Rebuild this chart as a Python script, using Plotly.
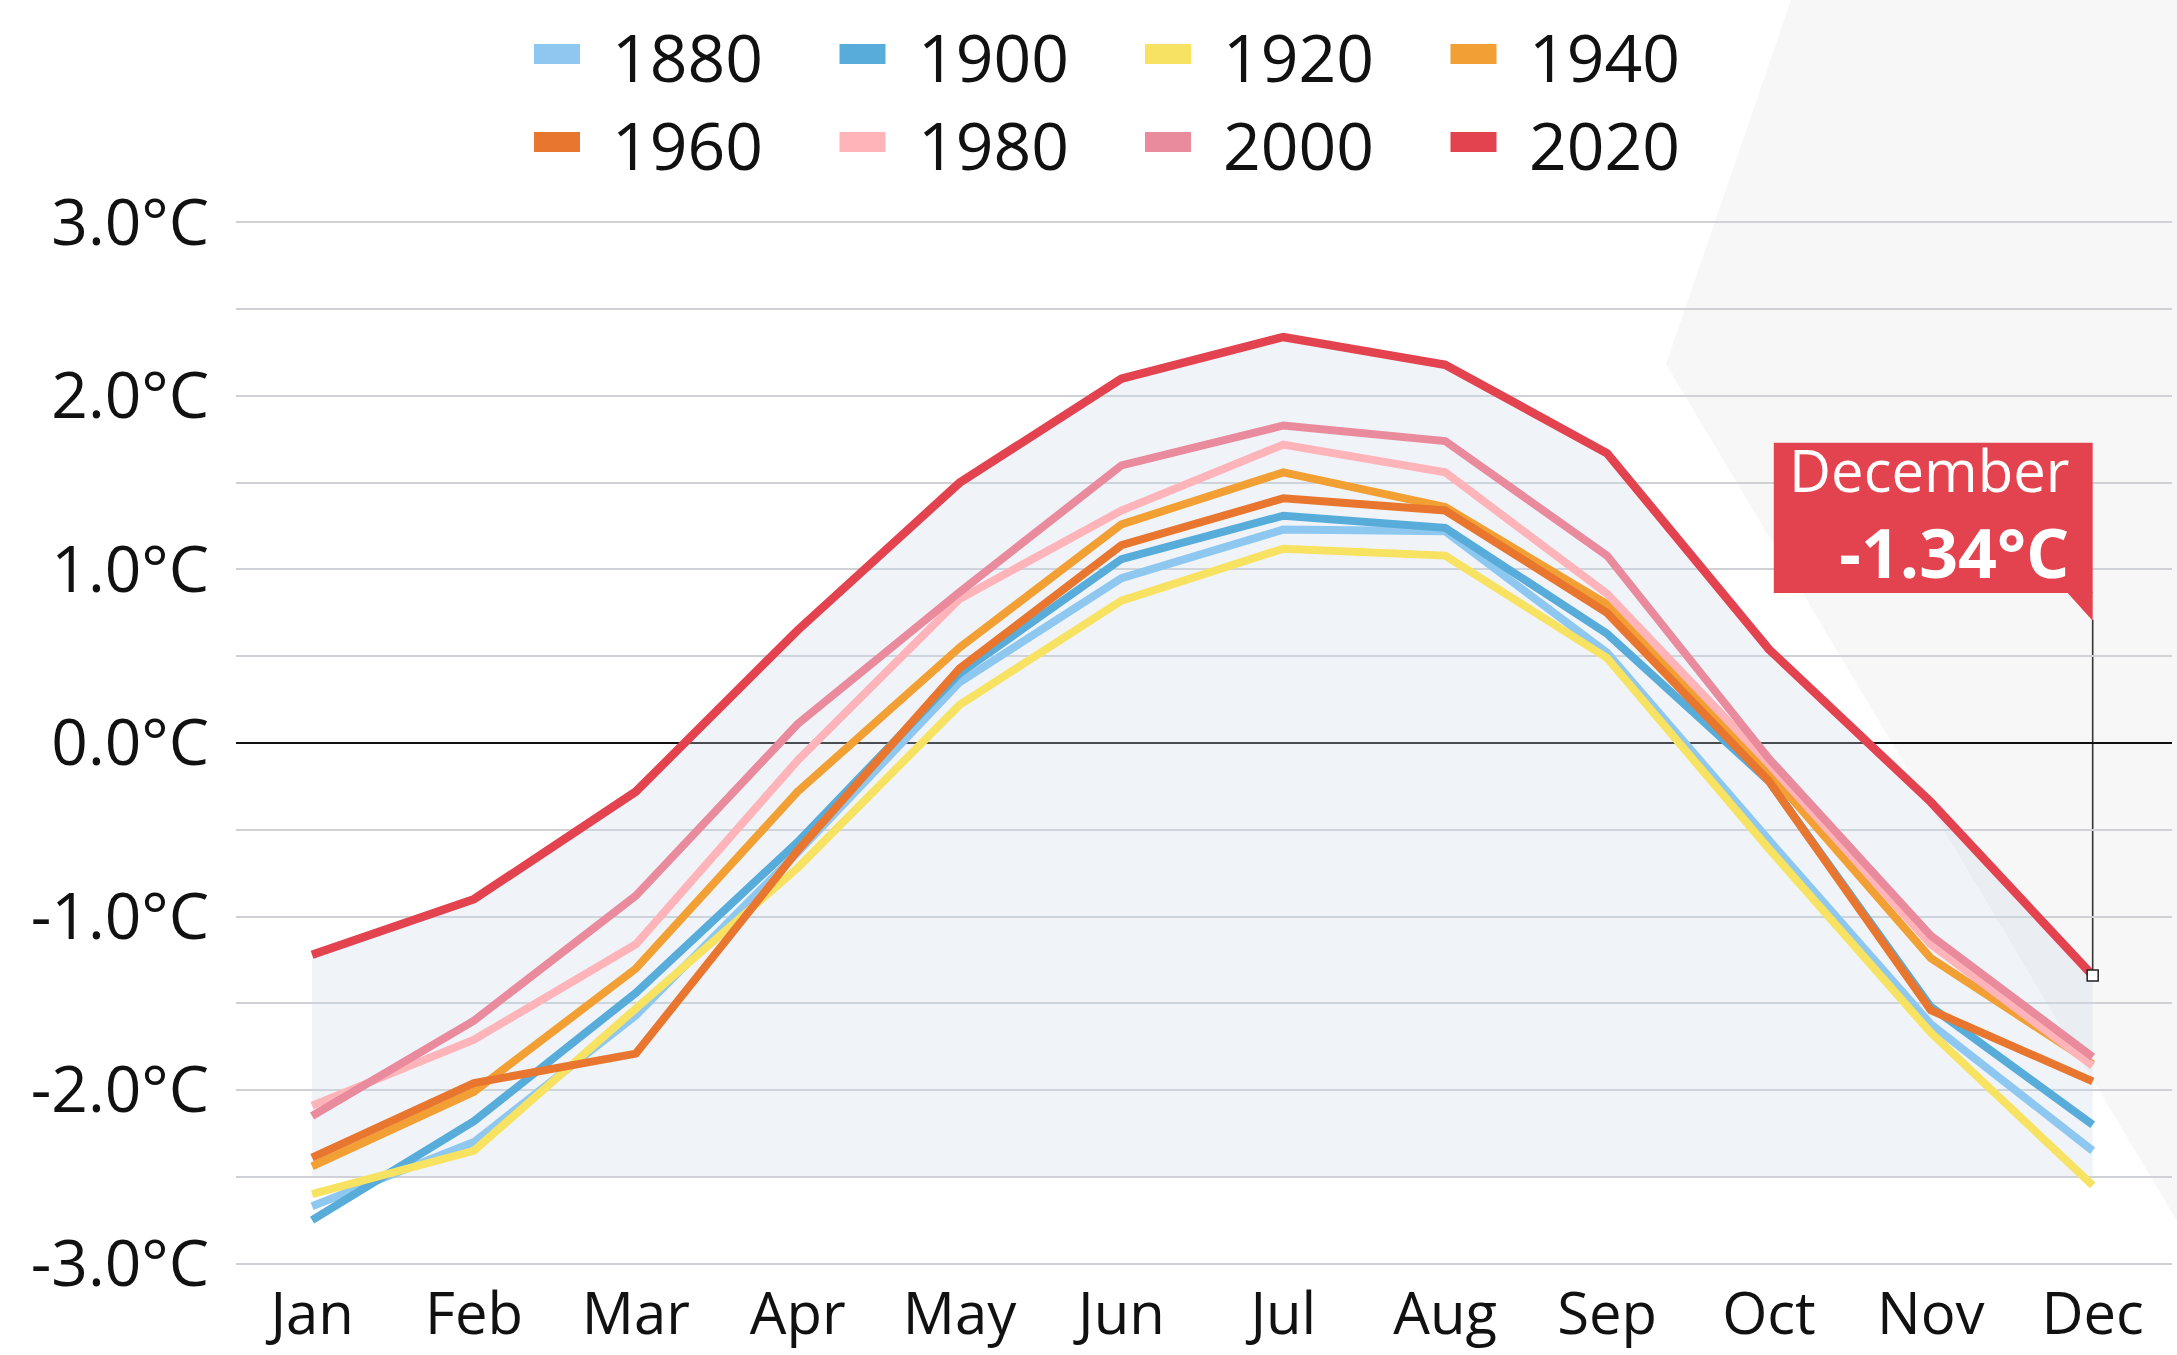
import plotly.graph_objects as go

months = ["Jan", "Feb", "Mar", "Apr", "May", "Jun", "Jul", "Aug", "Sep", "Oct", "Nov", "Dec"]
years = ["1880", "1900", "1920", "1940", "1960", "1980", "2000", "2020"]
colors = ["#8ec8f0", "#57acd9", "#f7e262", "#f2a033", "#e8762f", "#ffb4ba", "#e98a9d", "#e3424f"]

# monthly temperature, °C
t1880 = [-2.67, -2.30, -1.57, -0.63, 0.35, 0.95, 1.23, 1.22, 0.52, -0.56, -1.62, -2.35]
t1900 = [-2.75, -2.18, -1.44, -0.57, 0.40, 1.06, 1.31, 1.24, 0.63, -0.22, -1.52, -2.20]
t1920 = [-2.60, -2.35, -1.53, -0.72, 0.22, 0.82, 1.12, 1.08, 0.49, -0.61, -1.67, -2.55]
t1940 = [-2.44, -2.01, -1.30, -0.28, 0.55, 1.26, 1.56, 1.36, 0.80, -0.17, -1.24, -1.85]
t1960 = [-2.39, -1.96, -1.79, -0.62, 0.43, 1.14, 1.41, 1.34, 0.75, -0.22, -1.54, -1.95]
t1980 = [-2.09, -1.71, -1.16, -0.10, 0.83, 1.34, 1.72, 1.56, 0.86, -0.12, -1.16, -1.86]
t2000 = [-2.15, -1.60, -0.88, 0.11, 0.87, 1.60, 1.83, 1.74, 1.08, -0.09, -1.11, -1.81]
t2020 = [-1.22, -0.90, -0.28, 0.65, 1.50, 2.10, 2.34, 2.18, 1.67, 0.54, -0.34, -1.34]
series = [t1880, t1900, t1920, t1940, t1960, t1980, t2000, t2020]

y_ticks = [3, 2, 1, 0, -1, -2, -3]
y_labels = ["3.0°C", "2.0°C", "1.0°C", "0.0°C", "-1.0°C", "-2.0°C", "-3.0°C"]

FONT = "Open Sans"
RED = "#e3434f"
W, H = 2177, 1355
L, R, T, B = 236, 5, 219, 88


def px(x):
    return (x - L) / (W - L - R)


def py(y):
    return (H - B - y) / (H - T - B)


fig = go.Figure()

# soft shading under the warmest curve
fig.add_trace(go.Scatter(x=months, y=[-2.5] * len(months), mode="lines",
                         line=dict(width=0), hoverinfo="skip", showlegend=False))
fig.add_trace(go.Scatter(x=months, y=t2020, mode="lines", line=dict(width=0),
                         fill="tonexty", fillcolor="rgba(205,218,235,0.30)",
                         hoverinfo="skip", showlegend=False))

for year, color, vals in zip(years, colors, series):
    fig.add_trace(go.Scatter(
        x=months, y=vals, mode="lines", name=year,
        line=dict(color=color, width=8.5 if year == "2020" else 8),
        showlegend=False,
    ))

# end point marker for the callout
fig.add_trace(go.Scatter(
    x=[months[-1]], y=[t2020[-1]], mode="markers",
    marker=dict(symbol="square", size=11, color="white", line=dict(color="#222", width=1.5)),
    showlegend=False,
))

shapes = [
    # faint background decoration on the right
    dict(type="path", xref="paper", yref="paper", layer="below",
         path=f"M {px(1791)},{py(0)} L {px(2177)},{py(0)} L {px(2177)},{py(1221)} L {px(1666)},{py(364)} Z",
         fillcolor="#f7f7f7", line=dict(width=0)),
    # callout: leader line, box and pointer
    dict(type="line", xref="x", yref="y", layer="below",
         x0=11, x1=11, y0=t2020[-1], y1=0.712, line=dict(color="#333", width=1.6)),
    dict(type="rect", xref="x", yref="y", layer="above",
         x0=9.03, x1=11, y0=0.865, y1=1.73, fillcolor=RED, line=dict(width=0)),
    dict(type="path", xref="x", yref="y", layer="above",
         path="M 10.84,0.87 L 11,0.87 L 11,0.705 Z",
         fillcolor=RED, line=dict(width=0)),
]

annotations = [
    dict(x=10.863, y=1.575, xref="x", yref="y", text="December", showarrow=False,
         xanchor="right", yanchor="middle",
         font=dict(family=FONT, size=58, color="white")),
    dict(x=10.863, y=1.105, xref="x", yref="y", text="<b>-1.34°C</b>", showarrow=False,
         xanchor="right", yanchor="middle",
         font=dict(family=FONT, size=68, color="white")),
]

# legend drawn as swatches + labels, two rows of four
for i, (year, color) in enumerate(zip(years, colors)):
    row, col = divmod(i, 4)
    cx = 534 + col * 305.5
    cy = 54 + row * 88
    shapes.append(dict(type="rect", xref="paper", yref="paper",
                       x0=px(cx), x1=px(cx + 46), y0=py(cy - 10), y1=py(cy + 10),
                       fillcolor=color, line=dict(width=0)))
    annotations.append(dict(x=px(cx + 76), y=py(cy + 2), xref="paper", yref="paper",
                            text=year, showarrow=False, xanchor="left", yanchor="middle",
                            font=dict(family=FONT, size=66, color="#111")))

fig.update_layout(
    width=W, height=H,
    margin=dict(l=L, r=R, t=T, b=B),
    plot_bgcolor="rgba(0,0,0,0)",
    paper_bgcolor="white",
    font=dict(family=FONT, color="#111"),
    shapes=shapes,
    annotations=annotations,
    xaxis=dict(
        type="category", range=[-0.47, 11.49], showgrid=False, zeroline=False,
        showline=False, tickfont=dict(size=58, color="#111"), ticks="",
        ticklabelstandoff=8,
    ),
    yaxis=dict(
        range=[-3.02, 3.02], tickvals=y_ticks, ticktext=y_labels,
        tickfont=dict(size=64, color="#111"), showgrid=True,
        gridcolor="#cfd1d4", gridwidth=1.5,
        minor=dict(dtick=0.5, showgrid=True, gridcolor="#cfd1d4", gridwidth=1.5),
        zeroline=True, zerolinecolor="#111", zerolinewidth=1.8,
        showline=False, ticks="", ticklabelstandoff=26,
    ),
)

fig.write_html("out.html", config={"displayModeBar": False},
               post_script="document.body.style.margin = '0';")
